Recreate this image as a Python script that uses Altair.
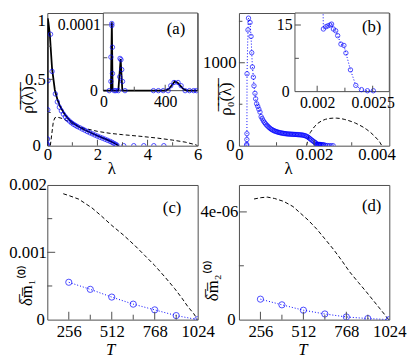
import altair as alt
import pandas as pd

FONT = "Liberation Serif"
INK = "#4d4d4d"
BLUE = "#0000ff"
FMT = ".6~g"

# ---------------- panel (a): main ----------------
a_lam = [0.0, 0.005, 0.01, 0.02, 0.03, 0.13, 0.19, 0.32, 0.40, 0.48, 0.56, 0.64, 0.72, 0.80,
         0.88, 0.96, 1.04, 1.12, 1.20, 1.30, 1.40, 1.50, 1.60, 1.70, 1.80, 1.90, 2.00, 2.10,
         2.20, 2.30, 2.40, 2.50, 2.58, 2.65, 2.72, 2.78, 3.05, 3.45, 3.85, 4.25, 4.65]
a_rho = [0.0, 0.01, 0.05, 0.27, 0.49, 0.84, 0.56, 0.39, 0.33, 0.29, 0.262, 0.238, 0.218, 0.200,
         0.186, 0.173, 0.162, 0.153, 0.144, 0.135, 0.125, 0.116, 0.106, 0.097, 0.089, 0.080, 0.072, 0.064,
         0.057, 0.049, 0.041, 0.033, 0.026, 0.018, 0.011, 0.004, 0.0, 0.0, 0.0, 0.0, 0.0]
a_line_lam = [0.0, 0.01, 0.02, 0.05, 0.10, 0.19, 0.30, 0.40, 0.50, 0.70, 0.90, 1.20, 1.50, 2.00, 2.40, 2.70, 2.85]
a_line_rho = [0.0, 0.0, 0.96, 0.92, 0.84, 0.58, 0.42, 0.35, 0.30, 0.235, 0.19, 0.148, 0.118, 0.075, 0.044, 0.017, 0.0]
a_dash_lam = [0.12, 0.18, 0.24, 0.30, 0.40, 0.60, 0.80, 1.10, 1.50, 2.00, 2.50, 3.00, 3.70, 4.40, 5.00, 5.50, 5.90, 6.00]
a_dash_rho = [0.0, 0.09, 0.18, 0.21, 0.215, 0.205, 0.185, 0.155, 0.13, 0.108, 0.093, 0.083, 0.071, 0.057, 0.042, 0.027, 0.008, 0.0]

# ---------------- panel (a): inset ----------------
ai_lam = [38, 49, 59, 49, 59, 55, 55, 70, 81, 97, 106, 108, 114, 119, 124, 140,
          324, 356, 387, 419, 436, 457, 483, 503, 529, 557, 584, 602]
ai_rho = [0.0, 0.14e-4, 0.26e-4, 0.51e-4, 0.66e-4, 0.99e-4, 1.02e-4, 0.0, 0.0, 0.0, 0.21e-4, 0.49e-4, 0.47e-4, 0.32e-4, 0.14e-4, 0.0,
          0.0, 0.0, 0.0, 0.0, 0.075e-4, 0.124e-4, 0.124e-4, 0.075e-4, 0.0, 0.0, 0.0, 0.0]
ai_line_lam = [0, 49, 55, 60, 97, 112, 123, 400, 425, 445, 462, 480, 500, 520, 540, 610]
ai_line_rho = [0.0, 0.0, 1.04e-4, 0.0, 0.0, 0.48e-4, 0.0, 0.0, 0.03e-4, 0.09e-4, 0.14e-4, 0.12e-4, 0.07e-4, 0.02e-4, 0.0, 0.0]

# ---------------- panel (b) ----------------
b_lam = [0.000205, 0.000207, 0.00021, 0.000212, 0.000215, 0.00024, 0.000254, 0.000295, 0.000322, 0.00034,
         0.000358, 0.000384, 0.0004, 0.000426, 0.000444, 0.00047,
         0.0005, 0.00053, 0.00056, 0.00059, 0.00062, 0.00065, 0.00068, 0.00071, 0.00074, 0.00077,
         0.0008, 0.00083, 0.00086, 0.00089, 0.00092, 0.00095, 0.00098, 0.00101, 0.00104, 0.00107,
         0.0011, 0.00113, 0.00116, 0.00119, 0.00122, 0.00125, 0.00128, 0.00131, 0.00134, 0.00137,
         0.0014, 0.00143, 0.00146, 0.00149, 0.00152, 0.00155, 0.00158, 0.00161, 0.00164, 0.00167,
         0.0017, 0.00173, 0.00176, 0.00179, 0.00182, 0.00185, 0.00188, 0.00191, 0.00194, 0.00197,
         0.002, 0.00203, 0.002045,
         0.002056, 0.002078, 0.002096, 0.002116, 0.00213, 0.002146, 0.002167, 0.002185, 0.002214,
         0.002241, 0.002259, 0.0023, 0.002348, 0.002399, 0.002453, 0.002506]
b_rho = [0, 15, 74, 145, 867, 1396, 1538, 1486, 1318, 1121,
         949, 827, 722, 632, 565, 506,
         475, 440, 405, 350, 325, 300, 280, 262, 247, 234,
         220, 208, 198, 190, 183, 177, 172, 167, 163, 159,
         156, 153, 150, 148, 146, 144, 142, 141, 140, 139,
         138, 137, 136, 136, 135, 134, 133, 132, 131, 129,
         127, 124, 120, 115, 108, 99, 88, 77, 66, 56,
         46, 37, 30,
         14.1, 14.6, 14.8, 15.0, 15.2, 14.1, 13.7, 12.6, 10.7,
         10.4, 8.7, 4.9, 1.4, 0.45, 0.2, 0.2]
b_dash_lam = [0.0018, 0.00185, 0.0019, 0.002, 0.0021, 0.0022, 0.0023, 0.0024, 0.0025, 0.0026, 0.0027,
              0.0028, 0.0029, 0.003, 0.0031, 0.0032, 0.0033, 0.0034, 0.0035, 0.0036, 0.0037, 0.00375, 0.0038]
b_dash_rho = [0, 110, 160, 225, 270, 300, 318, 328, 332, 332, 328,
              318, 305, 290, 272, 250, 225, 195, 160, 118, 70, 40, 0]

# ---------------- panels (c), (d) ----------------
T = [256, 384, 512, 640, 768, 896, 1024]
c_m1 = [5.55e-4, 4.5e-4, 3.35e-4, 2.3e-4, 1.45e-4, 0.6e-4, 0.0]
c_dash_T = [223, 260, 315, 394, 450, 512, 580, 650, 710, 768, 830, 886, 930, 965, 1000, 1024]
c_dash_m1 = [1.87e-3, 1.84e-3, 1.79e-3, 1.66e-3, 1.54e-3, 1.40e-3, 1.26e-3, 1.10e-3, 0.95e-3, 0.805e-3,
             0.63e-3, 0.464e-3, 0.32e-3, 0.195e-3, 0.09e-3, 0.0]
d_m2 = [7.6e-7, 5.5e-7, 3.5e-7, 2.1e-7, 1.0e-7, 0.4e-7, 0.0]
d_dash_T = [218, 260, 297, 340, 395, 450, 493, 540, 592, 640, 690, 740, 788, 840, 886, 930, 965, 1000, 1014, 1024]
d_dash_m2 = [4.48e-6, 4.53e-6, 4.55e-6, 4.5e-6, 4.39e-6, 4.2e-6, 3.96e-6, 3.7e-6, 3.36e-6, 3.0e-6,
             2.62e-6, 2.2e-6, 1.77e-6, 1.38e-6, 1.04e-6, 0.7e-6, 0.43e-6, 0.16e-6, 0.04e-6, 0.0]

W, H1, H2 = 153, 135, 137


def tab(xs, ys):
    return pd.DataFrame({"x": xs, "y": ys, "i": list(range(len(xs)))})


class Frame:
    """scales + axes shared by every layer of one plotting frame"""
    def __init__(self, sx, sy, ax, ay):
        self.sx, self.sy, self.ax, self.ay = sx, sy, ax, ay

    def X(self, f):
        return alt.X(f, scale=self.sx, axis=self.ax)

    def Y(self, f):
        return alt.Y(f, scale=self.sy, axis=self.ay)

    def pts(self, d, size):
        return alt.Chart(d).mark_point(shape="circle", filled=False, color=BLUE, size=size,
                                       strokeWidth=1, clip=True).encode(x=self.X("x:Q"), y=self.Y("y:Q"))

    def line(self, d, color, width, dash=None):
        kw = dict(color=color, strokeWidth=width, clip=True)
        if dash:
            kw["strokeDash"] = dash
        return alt.Chart(d).mark_line(**kw).encode(x=self.X("x:Q"), y=self.Y("y:Q"), order="i:Q")

    def xticks(self, vals, length, ybase):
        return alt.Chart(pd.DataFrame({"v": vals})).mark_rule(color=INK, strokeWidth=1).encode(
            x=self.X("v:Q"), y=alt.value(ybase), y2=alt.value(ybase - length))

    def yticks(self, vals, length, xbase):
        return alt.Chart(pd.DataFrame({"v": vals})).mark_rule(color=INK, strokeWidth=1).encode(
            y=self.Y("v:Q"), x=alt.value(xbase), x2=alt.value(xbase + length))

    def box(self, x0, x1, y0, y1):
        d = pd.DataFrame({"x0": [x0], "x1": [x1], "y0": [y0], "y1": [y1]})
        return alt.Chart(d).mark_rect(fill="white", stroke=INK, strokeWidth=1).encode(
            x=self.X("x0:Q"), x2="x1:Q", y=self.Y("y0:Q"), y2="y1:Q")


def tag(txt, x, y):
    return alt.Chart(pd.DataFrame({"t": [txt]})).mark_text(font=FONT, fontSize=17, color="black").encode(
        text="t:N", x=alt.value(x), y=alt.value(y))


def pad_zero(p0, p):
    return {"condition": {"test": "datum.value == 0", "value": p0}, "value": p}


def xax(values, title, tx, ty, pad, **kw):
    return alt.Axis(values=values, title=title, titleX=tx, titleY=ty, titleBaseline="top",
                    titleAlign="center", titleAngle=0, labelPadding=pad, format=FMT,
                    labelFont=FONT, titleFont=FONT, labelFontSize=17, titleFontSize=17, **kw)


def yax(values, title, tx, ty, **kw):
    kw.setdefault("format", FMT)
    kw.setdefault("labelPadding", 1)
    return alt.Axis(values=values, title=title, titleX=tx, titleY=ty, titleBaseline="bottom",
                    titleAlign="center", titleAngle=270,
                    labelFont=FONT, titleFont=FONT, labelFontSize=17, titleFontSize=17, **kw)


def inset_ax_x(values, ybottom, h):
    return alt.Axis(values=values, orient="bottom", offset=-(h - ybottom), title=None,
                    labelFont=FONT, labelFontSize=16, labelPadding=3.5, format=FMT)


def inset_ax_y(values, xleft):
    return alt.Axis(values=values, orient="left", offset=-xleft, title=None,
                    labelFont=FONT, labelFontSize=16, labelPadding=pad_zero(6, 3), format=FMT)


# ================= (a) =================
fa = Frame(alt.Scale(domain=[0, 6], nice=False, zero=False),
           alt.Scale(domain=[0, 1], nice=False),
           xax([0, 2, 4, 6], "λ", 65, 15, 1.5),
           yax([0, 0.5, 1], "ρ\u0305(\u0305λ\u0305)\u0305", -11, 88, labelPadding=pad_zero(7, 2),
               labelBaseline={"condition": {"test": "datum.value == 1", "value": "top"}, "value": "middle"}))
main_a = alt.layer(
    fa.line(tab(a_dash_lam, a_dash_rho), "black", 1, [4, 2.5]),
    fa.line(tab(a_line_lam, a_line_rho), "black", 1.8),
    fa.pts(tab(a_lam, a_rho), 20),
    fa.xticks([2, 4], 6, H1), fa.xticks([1, 3, 5], 3.5, H1),
    fa.yticks([0.5], 6, 0), fa.yticks([0.25, 0.75], 3.5, 0),
)
fai = Frame(alt.Scale(domain=[0, 610], range=[57, W], nice=False, zero=False),
            alt.Scale(domain=[0, 1.18e-4], range=[79, 0], nice=False),
            inset_ax_x([0, 400], 79, H1), inset_ax_y([0, 1e-4], 57))
inset_a = alt.layer(
    fai.box(0, 610, 0, 1.18e-4),
    fai.line(tab(ai_line_lam, ai_line_rho), "black", 1.8),
    fai.pts(tab(ai_lam, ai_rho), 20),
    fai.xticks([400], 6, 79), fai.xticks([200], 4, 79),
    fai.yticks([1e-4], 6, 57), fai.yticks([5e-5], 4, 57),
    tag("(a)", 131, 16),
)
A = alt.layer(main_a, inset_a).resolve_scale(x="independent", y="independent").properties(width=W, height=H1)

# ================= (b) =================
fb = Frame(alt.Scale(domain=[0, 0.004], nice=False, zero=False),
           alt.Scale(domain=[0, 1600], nice=False),
           xax([0, 0.002, 0.004], "λ", 50, 15, 1.5,
               labelOffset={"condition": {"test": "datum.value > 0.0039", "value": -13}, "value": 0}),
           yax([0, 1000], "ρ\u0305\u2080\u0305(\u0305λ\u0305)\u0305", -5, 87, labelPadding=pad_zero(5, 3)))
bd = tab(b_lam, b_rho)
main_b = alt.layer(
    fb.line(tab(b_dash_lam, b_dash_rho), "black", 1, [4, 2.5]),
    fb.line(bd, BLUE, 1, [1, 2]),
    fb.pts(bd, 20),
    fb.xticks([0.002], 6, H1), fb.xticks([0.001, 0.003], 3.5, H1),
    fb.yticks([1000], 6, 0), fb.yticks([500, 1500], 3.5, 0),
)
fbi = Frame(alt.Scale(domain=[0.0018, 0.00265], range=[57, W], nice=False, zero=False),
            alt.Scale(domain=[0, 17.7], range=[80, 0], nice=False),
            inset_ax_x([0.002, 0.0025], 80, H1), inset_ax_y([0, 15], 57))
bi = bd[bd["x"] >= 0.002045]
inset_b = alt.layer(
    fbi.box(0.0018, 0.00265, 0, 17.7),
    fbi.line(bi, BLUE, 1, [1, 2]),
    fbi.pts(bi[bi["x"] > 0.00205], 20),
    fbi.xticks([0.002, 0.0025], 6, 80), fbi.xticks([0.00225], 4, 80),
    fbi.yticks([15], 6, 57), fbi.yticks([7.5], 4, 57),
    tag("(b)", 135, 14),
)
B = alt.layer(main_b, inset_b).resolve_scale(x="independent", y="independent").properties(width=W, height=H1)

# ================= (c) =================
sT = alt.Scale(domain=[128, 1024], nice=False, zero=False)
fc = Frame(sT, alt.Scale(domain=[0, 0.002], nice=False),
           xax([256, 512, 768, 1024], "T", 64, 22, 4, titleFontStyle="italic"),
           yax([0, 0.001, 0.002], "δ\u0305m\u0305\u2081\u207d\u2070\u207e", -12, 102, labelPadding=pad_zero(3, 1)))
cd = tab(T, c_m1)
C = alt.layer(
    fc.line(tab(c_dash_T, c_dash_m1), "black", 1, [4, 2.5]),
    fc.line(cd, BLUE, 1, [1, 2]),
    fc.pts(cd, 40),
    fc.xticks([256, 512, 768], 8, H2), fc.xticks([384, 640, 896], 5, H2),
    fc.yticks([0.001], 8, 0), fc.yticks([0.0005, 0.0015], 5, 0),
    tag("(c)", 127, 24),
).properties(width=W, height=H2)

# ================= (d) =================
fd = Frame(sT, alt.Scale(domain=[0, 5e-6], nice=False),
           xax([256, 512, 768, 1024], "T", 64.5, 22, 4, titleFontStyle="italic"),
           yax([0, 4e-6], "δ\u0305m\u0305\u2082\u207d\u2070\u207e", -18, 97, labelPadding=pad_zero(4, 1),
               labelExpr="datum.value == 0 ? '0' : replace(format(datum.value, '.0e'), 'e-', 'e-0')"))
dd = tab(T, d_m2)
D = alt.layer(
    fd.line(tab(d_dash_T, d_dash_m2), "black", 1, [4, 2.5]),
    fd.line(dd, BLUE, 1, [1, 2]),
    fd.pts(dd, 40),
    fd.xticks([256, 512, 768], 8, H2), fd.xticks([384, 640, 896], 5, H2),
    fd.yticks([4e-6], 8, 0), fd.yticks([2e-6], 5, 0),
    tag("(d)", 135, 21),
).properties(width=W, height=H2)

chart = alt.concat(A, B, C, D, columns=2, spacing={"row": 40, "column": 42},
                   bounds="flush", align="each").properties(padding=0)
chart = chart.configure(font=FONT).configure_view(stroke=INK, strokeWidth=1).configure_axis(
    domain=False, ticks=False, grid=False, labelFont=FONT, titleFont=FONT,
    labelFontSize=17, titleFontSize=17, labelColor="black", titleColor="black",
    titleFontWeight="normal", labelFlush=False, labelOverlap=False)

chart.save("out.html", embed_options={"renderer": "svg", "actions": False})
